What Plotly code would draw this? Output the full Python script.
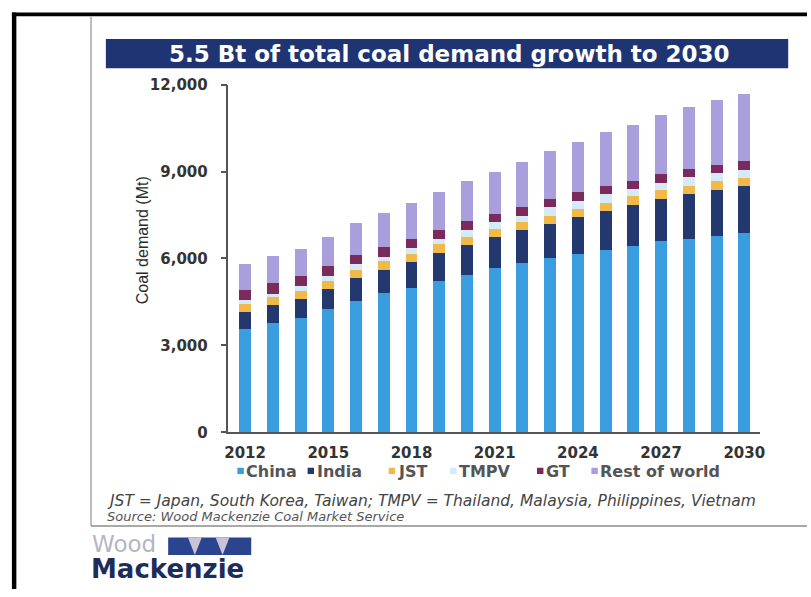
import plotly.graph_objects as go

# ---------------- data ----------------
years = list(range(2012, 2031))
china = [3550, 3760, 3940, 4260, 4550, 4800, 4980, 5240, 5430, 5660,
         5830, 6010, 6160, 6290, 6440, 6590, 6670, 6780, 6870]
india = [600, 620, 660, 680, 770, 810, 900, 950, 1040, 1070,
         1150, 1190, 1260, 1350, 1390, 1450, 1560, 1570, 1620]
jst = [280, 280, 290, 280, 290, 300, 270, 300, 280, 300,
       280, 280, 280, 290, 310, 310, 280, 330, 280]
tmpv = [140, 130, 170, 190, 190, 140, 200, 170, 220, 220,
        220, 280, 280, 300, 260, 270, 290, 270, 300]
gt = [330, 350, 320, 330, 310, 360, 330, 330, 330, 300,
      310, 300, 300, 280, 280, 280, 290, 290, 290]
rest_of_world = [910, 950, 950, 1000, 1100, 1170, 1250, 1320, 1390, 1450,
                 1550, 1640, 1730, 1840, 1940, 2040, 2150, 2220, 2300]

series_names = ["China", "India", "JST", "TMPV", "GT", "Rest of world"]
series_values = [china, india, jst, tmpv, gt, rest_of_world]
series_colors = ["#3a9de0", "#22386e", "#f0b948", "#d4eaf8", "#7a2b5c", "#a99fdc"]

x_tickvals = [2012, 2015, 2018, 2021, 2024, 2027, 2030]
y_tickvals = [0, 3000, 6000, 9000, 12000]

title_text = "5.5 Bt of total coal demand growth to 2030"
y_title = "Coal demand (Mt)"
note_text = "JST = Japan, South Korea, Taiwan; TMPV = Thailand, Malaysia, Philippines, Vietnam"
source_text = "Source: Wood Mackenzie Coal Market Service"

# ---------------- helpers ----------------
W, H = 811, 597


def px(x):
    return x / W


def py(y):
    return 1 - y / H


fig = go.Figure()
for name, vals, col in zip(series_names, series_values, series_colors):
    fig.add_trace(go.Bar(x=years, y=vals, name=name, marker=dict(color=col, line=dict(width=0)),
                         showlegend=False))

tick_font = dict(family="DejaVu Sans", size=15, color="#333333", weight="bold")

fig.update_layout(
    width=W, height=H,
    margin=dict(l=0, r=0, t=0, b=0),
    paper_bgcolor="white", plot_bgcolor="white",
    barmode="stack", bargap=0.57,
    xaxis=dict(domain=[px(227), px(764)], range=[2011.4, 2030.55],
               tickvals=x_tickvals, ticks="", showgrid=False, zeroline=False,
               showline=True, linecolor="#555555", linewidth=1.5,
               tickfont=tick_font, ticklabelstandoff=6),
    yaxis=dict(domain=[py(436.5), py(78)], range=[0, 12000],
               tickvals=y_tickvals, tickformat=",", ticks="outside", ticklen=6,
               tickcolor="#555555", tickwidth=1.5, showgrid=False, zeroline=False,
               showline=True, linecolor="#555555", linewidth=1.5,
               tickfont=tick_font, ticklabelstandoff=10),
)

shapes = []
annotations = []

# outer black frame (top and left)
shapes.append(dict(type="rect", xref="paper", yref="paper", x0=px(8), x1=px(812), y0=py(7.5), y1=py(3.5),
                   fillcolor="black", line=dict(width=0), layer="above"))
shapes.append(dict(type="rect", xref="paper", yref="paper", x0=px(8), x1=px(12.5), y0=py(598), y1=py(3.5),
                   fillcolor="black", line=dict(width=0), layer="above"))
# inner gray panel lines
shapes.append(dict(type="line", xref="paper", yref="paper", x0=px(88), x1=px(88), y0=py(533), y1=py(7.5),
                   line=dict(color="#a8a8a8", width=1.5)))
shapes.append(dict(type="line", xref="paper", yref="paper", x0=px(88), x1=px(812), y0=py(533), y1=py(533),
                   line=dict(color="#8c8c8c", width=1.5)))
# title bar
shapes.append(dict(type="rect", xref="paper", yref="paper", x0=px(103), x1=px(793), y0=py(61), y1=py(31),
                   fillcolor="#1f3472", line=dict(width=0)))
annotations.append(dict(xref="paper", yref="paper", x=px(450), y=py(46.5), text=title_text,
                        showarrow=False, xanchor="center", yanchor="middle",
                        font=dict(family="DejaVu Sans", size=23, color="white", weight="bold")))

# y axis title
annotations.append(dict(xref="paper", yref="paper", x=px(140), y=py(238), text=y_title, textangle=-90,
                        showarrow=False, xanchor="center", yanchor="middle",
                        font=dict(family="Liberation Sans", size=16, color="#2a2a2a")))

# legend (manual)
legend_x = [236, 307, 389, 451, 539, 594]
for name, col, lx in zip(series_names, series_colors, legend_x):
    shapes.append(dict(type="rect", xref="paper", yref="paper", x0=px(lx), x1=px(lx + 6.5),
                       y0=py(479.5), y1=py(473), fillcolor=col, line=dict(width=0)))
    annotations.append(dict(xref="paper", yref="paper", x=px(lx + 7), y=py(476.5), text=name,
                            showarrow=False, xanchor="left", yanchor="middle",
                            font=dict(family="DejaVu Sans", size=16, color="#555555", weight="bold")))

# notes
annotations.append(dict(xref="paper", yref="paper", x=px(102), y=py(507.5), text=note_text,
                        showarrow=False, xanchor="left", yanchor="middle", height=16,
                        font=dict(family="DejaVu Sans", size=15.5, color="#444444", style="italic")))
annotations.append(dict(xref="paper", yref="paper", x=px(102), y=py(523), text=source_text,
                        showarrow=False, xanchor="left", yanchor="middle", height=13,
                        font=dict(family="DejaVu Sans", size=13, color="#555555", style="italic")))

# logo
annotations.append(dict(xref="paper", yref="paper", x=px(87), y=py(551.5), text="Wood",
                        showarrow=False, xanchor="left", yanchor="middle", height=19,
                        font=dict(family="DejaVu Sans", size=23, color="#b5b5c2")))
annotations.append(dict(xref="paper", yref="paper", x=px(86), y=py(577.5), text="Mackenzie",
                        showarrow=False, xanchor="left", yanchor="middle", height=22,
                        font=dict(family="DejaVu Sans", size=26, color="#1e2c5c", weight="bold")))
shapes.append(dict(type="rect", xref="paper", yref="paper", x0=px(166), x1=px(250), y0=py(563), y1=py(545),
                   fillcolor="#2b4490", line=dict(width=0)))
for x0 in (186, 214):
    shapes.append(dict(type="path", xref="paper", yref="paper",
                       path=f"M {px(x0)} {py(545)} L {px(x0 + 14)} {py(545)} L {px(x0 + 7)} {py(563)} Z",
                       fillcolor="#c9c3d6", line=dict(width=0)))

fig.update_layout(shapes=shapes, annotations=annotations)
fig.write_html("out.html")
